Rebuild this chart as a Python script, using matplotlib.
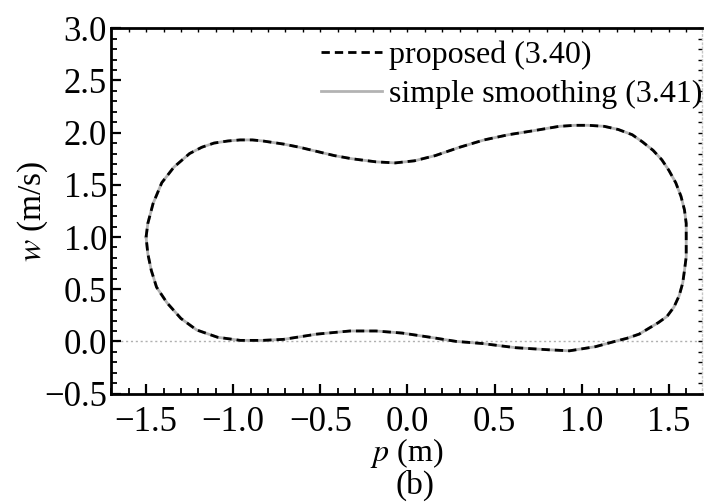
import numpy as np
import matplotlib.pyplot as plt
from matplotlib.ticker import MultipleLocator

plt.rcParams['font.family'] = ['Liberation Serif', 'DejaVu Serif']
plt.rcParams['mathtext.fontset'] = 'stix'

# closed phase-plane loop (p, w), clockwise from the left
p = [-1.50, -1.49, -1.46, -1.41, -1.34, -1.25, -1.18, -1.11, -1.03, -0.96, -0.89,
     -0.83, -0.71, -0.62, -0.52, -0.42, -0.32, -0.18, -0.07, 0.04, 0.16, 0.30, 0.44,
     0.58, 0.73, 0.87, 0.96, 1.04, 1.13, 1.21, 1.29, 1.35, 1.41, 1.46, 1.50, 1.54,
     1.57, 1.59, 1.60, 1.60, 1.60, 1.59, 1.58, 1.56, 1.53, 1.49, 1.44, 1.39, 1.33,
     1.26, 1.19, 1.08, 0.93, 0.81, 0.62, 0.43, 0.28, 0.13, -0.03, -0.18, -0.33,
     -0.52, -0.71, -0.83, -0.96, -1.09, -1.21, -1.30, -1.38, -1.44, -1.47, -1.49,
     -1.50]
w = [1.00, 1.13, 1.32, 1.52, 1.67, 1.80, 1.86, 1.90, 1.92, 1.93, 1.93,
     1.92, 1.89, 1.86, 1.82, 1.78, 1.75, 1.72, 1.71, 1.73, 1.78, 1.86, 1.93,
     1.98, 2.02, 2.06, 2.07, 2.07, 2.06, 2.03, 1.98, 1.91, 1.83, 1.74, 1.64, 1.52,
     1.39, 1.26, 1.13, 1.00, 0.81, 0.68, 0.56, 0.44, 0.33, 0.24, 0.18, 0.13, 0.07,
     0.03, 0.00, -0.05, -0.09, -0.08, -0.06, -0.02, 0.00, 0.04, 0.08, 0.10, 0.10,
     0.07, 0.02, 0.01, 0.01, 0.04, 0.11, 0.22, 0.37, 0.52, 0.68, 0.84,
     1.00]

fig = plt.figure(figsize=(7.04, 5.04), dpi=100)
ax = fig.add_axes([0.158, 0.219, 0.839, 0.725])

ax.axhline(0, color='#b0b0b0', lw=1, ls=(0, (1.5, 2)), zorder=1)
ax.plot(p, w, color='#b3b3b3', lw=2, label='simple smoothing (3.41)', zorder=2,
        solid_joinstyle='round')
ax.plot(p, w, color='black', lw=2, ls=(0, (3, 1.8)), label='proposed (3.40)', zorder=3)

ax.set_xlim(-1.7, 1.69)
ax.set_ylim(-0.5, 3.0)
ax.xaxis.set_major_locator(MultipleLocator(0.5))
ax.xaxis.set_minor_locator(MultipleLocator(0.1))
ax.yaxis.set_major_locator(MultipleLocator(0.5))
ax.yaxis.set_minor_locator(MultipleLocator(0.1))
fmt = plt.FuncFormatter(lambda v, _: f'{v:.1f}'.replace('-', '\u2212'))
ax.xaxis.set_major_formatter(fmt)
ax.yaxis.set_major_formatter(fmt)
ax.tick_params(which='both', direction='in', top=True, right=True)
ax.tick_params(which='major', length=7, width=1.6, labelsize=25)
ax.tick_params(axis='x', which='major', pad=9)
ax.tick_params(axis='y', which='major', pad=3)
ax.tick_params(which='minor', length=4, width=1.3)

for s in ['left', 'bottom', 'top']:
    ax.spines[s].set_linewidth(2)
ax.spines['right'].set_color('#c8c8c8')
ax.spines['right'].set_linestyle((0, (1, 2)))
ax.spines['right'].set_linewidth(1)

ax.set_xlabel('$p$ (m)', fontsize=23, labelpad=-2)
ax.set_ylabel('$w$ (m/s)', fontsize=24, labelpad=-4)
fig.text(0.59, 0.036, '(b)', fontsize=24, ha='center', va='center')

h, l = ax.get_legend_handles_labels()
ax.legend(h[::-1], l[::-1], loc='upper right', frameon=False, fontsize=23,
          handlelength=1.9, handletextpad=0.2, borderaxespad=0.0, borderpad=0,
          labelspacing=0.3, bbox_to_anchor=(1.0, 0.967))

# faint, short ticks on the top and right frame
fig.canvas.draw()
for axis in (ax.xaxis, ax.yaxis):
    for t in axis.get_major_ticks() + axis.get_minor_ticks():
        t.tick2line.set_color('#c8c8c8')
        t.tick2line.set_markersize(3)
        t.tick2line.set_markeredgewidth(1)

fig.savefig('out.png', dpi=100)
